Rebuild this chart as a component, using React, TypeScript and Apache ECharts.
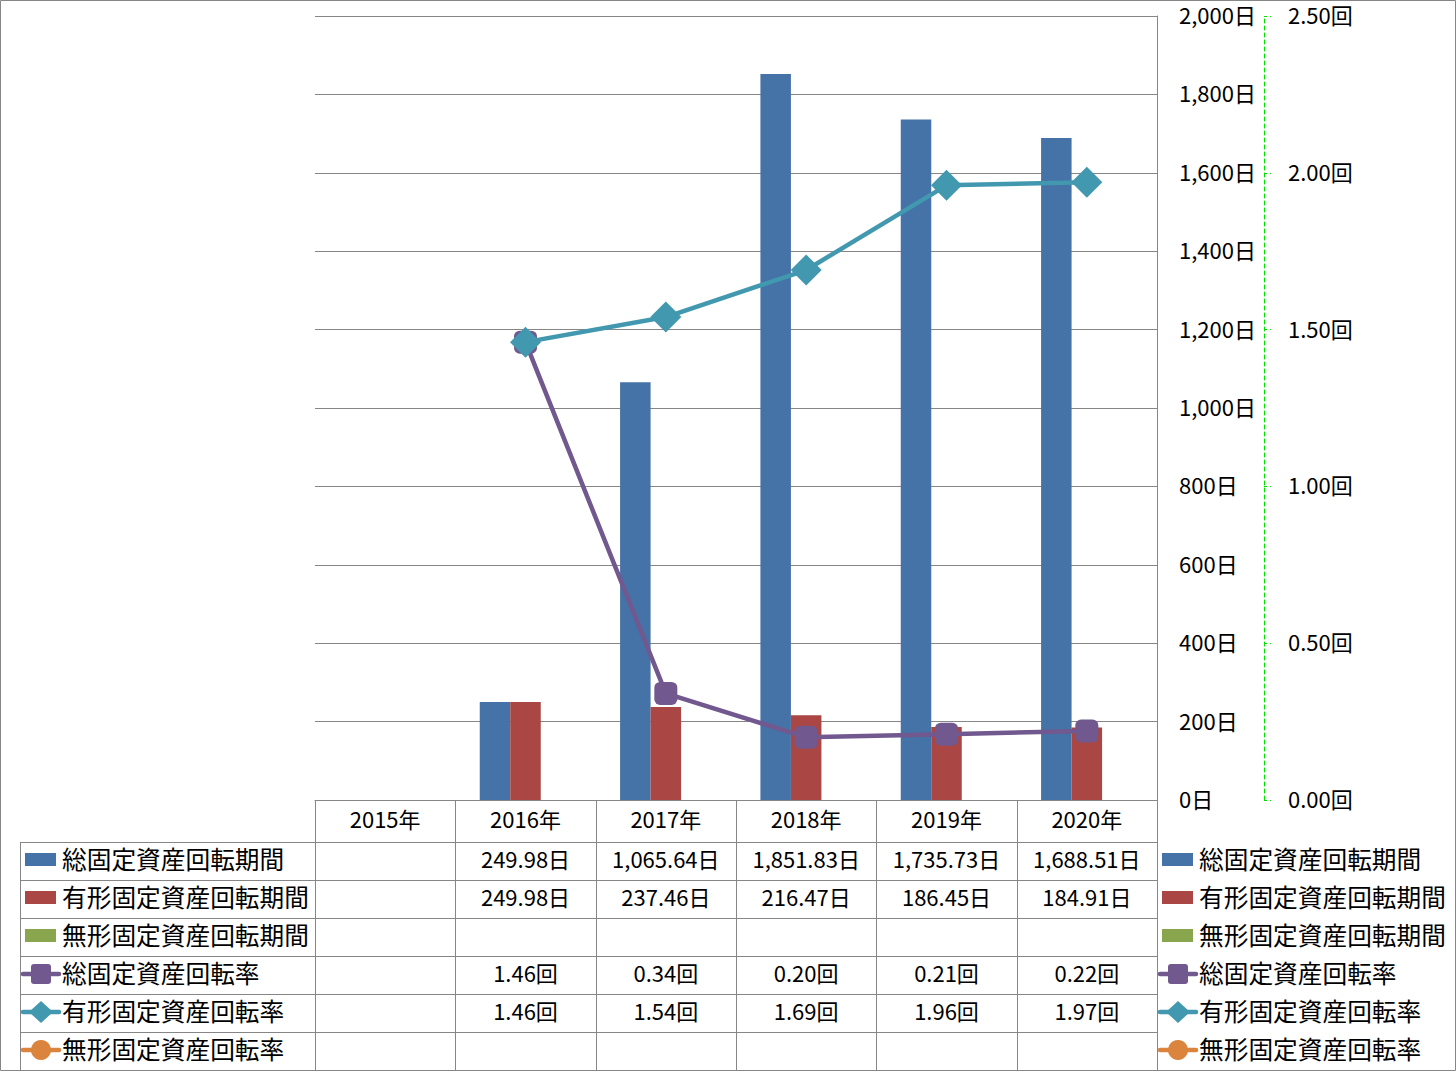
import React, { useEffect, useRef } from "react";
import * as echarts from "echarts";

const categories = ["2015年", "2016年", "2017年", "2018年", "2019年", "2020年"];
const seriesNames = [
  "総固定資産回転期間",
  "有形固定資産回転期間",
  "無形固定資産回転期間",
  "総固定資産回転率",
  "有形固定資産回転率",
  "無形固定資産回転率",
];
const totalPeriod: (number | null)[] = [null, 249.98, 1065.64, 1851.83, 1735.73, 1688.51];
const tangiblePeriod: (number | null)[] = [null, 249.98, 237.46, 216.47, 186.45, 184.91];
const intangiblePeriod: (number | null)[] = [null, null, null, null, null, null];
const totalRate: (number | null)[] = [null, 1.46, 0.34, 0.2, 0.21, 0.22];
const tangibleRate: (number | null)[] = [null, 1.46, 1.54, 1.69, 1.96, 1.97];
const intangibleRate: (number | null)[] = [null, null, null, null, null, null];

const colors = ["#4572A7", "#AA4643", "#89A54E", "#71588F", "#4198AF", "#DB843D"];
const FONT = "'Noto Sans CJK JP', 'Noto Sans', sans-serif";

const W = 1456;
const H = 1071;
const GRID_L = 315;
const GRID_R = 1157;
const GRID_T = 16;
const GRID_B = 800;
const HEADER_B = 842;
const ROW_H = 38;
const TABLE_L = 20;
const GRAY = "#868686";
const TEXT_DY = -3;

function fmtDays(v: number | null) {
  if (v == null) return "";
  return (
    v.toLocaleString("en-US", { minimumFractionDigits: 2, maximumFractionDigits: 2 }) + "日"
  );
}
function fmtRate(v: number | null) {
  if (v == null) return "";
  return v.toFixed(2) + "回";
}

export default function App() {
  const ref = useRef<HTMLDivElement>(null);
  useEffect(() => {
    if (!ref.current) return;
    const chart = echarts.init(ref.current, null, { renderer: "svg" });
    const colW = (GRID_R - GRID_L) / categories.length;
    const rows = [
      { name: seriesNames[0], data: totalPeriod, fmt: fmtDays, kind: "bar" },
      { name: seriesNames[1], data: tangiblePeriod, fmt: fmtDays, kind: "bar" },
      { name: seriesNames[2], data: intangiblePeriod, fmt: fmtDays, kind: "bar" },
      { name: seriesNames[3], data: totalRate, fmt: fmtRate, kind: "square" },
      { name: seriesNames[4], data: tangibleRate, fmt: fmtRate, kind: "diamond" },
      { name: seriesNames[5], data: intangibleRate, fmt: fmtRate, kind: "circle" },
    ];
    const g: any[] = [];
    g.push({
      type: "rect",
      shape: { x: 0.5, y: 0.5, width: W - 1, height: H - 1 },
      style: { fill: "none", stroke: GRAY, lineWidth: 1 },
      silent: true,
    });
    const tableBottom = HEADER_B + ROW_H * rows.length;
    for (let i = 0; i < rows.length; i++) {
      const y = HEADER_B + ROW_H * i + 0.5;
      g.push({
        type: "line",
        shape: { x1: TABLE_L, y1: y, x2: GRID_R, y2: y },
        style: { stroke: GRAY, lineWidth: 1 },
      });
    }
    for (let c = 0; c <= categories.length; c++) {
      const x = Math.round(GRID_L + colW * c) + 0.5;
      g.push({
        type: "line",
        shape: { x1: x, y1: GRID_B, x2: x, y2: tableBottom },
        style: { stroke: GRAY, lineWidth: 1 },
      });
    }
    g.push({
      type: "line",
      shape: { x1: TABLE_L + 0.5, y1: HEADER_B, x2: TABLE_L + 0.5, y2: tableBottom },
      style: { stroke: GRAY, lineWidth: 1 },
    });
    categories.forEach((c, i) => {
      g.push({
        type: "text",
        x: GRID_L + colW * (i + 0.5),
        y: (GRID_B + HEADER_B) / 2 + TEXT_DY,
        style: {
          text: c,
          fontSize: 22,
          fontFamily: FONT,
          fill: "#000",
          align: "center",
          verticalAlign: "middle",
        },
      });
    });
    const key = (x0: number, cy: number, kind: string, color: string) => {
      if (kind === "bar") {
        g.push({
          type: "rect",
          shape: { x: x0 + 2, y: cy - 7, width: 31, height: 13 },
          style: { fill: color },
        });
      } else {
        g.push({
          type: "line",
          shape: { x1: x0, y1: cy, x2: x0 + 36, y2: cy },
          style: { stroke: color, lineWidth: 4.5, lineCap: "round" },
        });
        const cx = x0 + 18;
        if (kind === "square") {
          g.push({
            type: "rect",
            shape: { x: cx - 10, y: cy - 10, width: 20, height: 20, r: 3 },
            style: { fill: color },
          });
        } else if (kind === "diamond") {
          g.push({
            type: "polygon",
            shape: {
              points: [
                [cx, cy - 11],
                [cx + 12, cy],
                [cx, cy + 11],
                [cx - 12, cy],
              ],
            },
            style: { fill: color },
          });
        } else {
          g.push({
            type: "circle",
            shape: { cx, cy, r: 10 },
            style: { fill: color },
          });
        }
      }
    };
    rows.forEach((r, i) => {
      const cy = HEADER_B + ROW_H * i + ROW_H / 2 - 1;
      const color = colors[i];
      key(23, cy, r.kind, color);
      g.push({
        type: "text",
        x: 62,
        y: cy + TEXT_DY + 1,
        style: {
          text: r.name,
          fontSize: 24.7,
          fontFamily: FONT,
          fill: "#000",
          align: "left",
          verticalAlign: "middle",
        },
      });
      key(1160, cy, r.kind, color);
      g.push({
        type: "text",
        x: 1199,
        y: cy + TEXT_DY + 1,
        style: {
          text: r.name,
          fontSize: 24.7,
          fontFamily: FONT,
          fill: "#000",
          align: "left",
          verticalAlign: "middle",
        },
      });
      r.data.forEach((v, c) => {
        const t = r.fmt(v);
        if (!t) return;
        g.push({
          type: "text",
          x: GRID_L + colW * (c + 0.5),
          y: cy + TEXT_DY + 1,
          style: {
            text: t,
            fontSize: 22,
            fontFamily: FONT,
            fill: "#000",
            align: "center",
            verticalAlign: "middle",
          },
        });
      });
    });

    const option: any = {
      animation: false,
      backgroundColor: "#fff",
      textStyle: { fontFamily: FONT },
      grid: {
        left: GRID_L,
        right: W - GRID_R,
        top: GRID_T,
        bottom: H - GRID_B,
        containLabel: false,
      },
      xAxis: {
        type: "category",
        data: categories,
        axisLine: { show: true, lineStyle: { color: GRAY, width: 1 } },
        axisTick: { show: false },
        axisLabel: { show: false },
        splitLine: { show: false },
      },
      yAxis: [
        {
          type: "value",
          position: "right",
          min: 0,
          max: 2000,
          interval: 200,
          axisLine: { show: true, lineStyle: { color: GRAY, width: 1 } },
          axisTick: { show: false },
          axisLabel: {
            margin: 22,
            fontSize: 22,
            color: "#000",
            fontFamily: FONT,
            verticalAlign: "bottom",
            lineHeight: 4,
            formatter: (v: number) => v.toLocaleString("en-US") + "日",
          },
          splitLine: { show: true, lineStyle: { color: GRAY, width: 1 } },
        },
        {
          type: "value",
          position: "right",
          offset: 107,
          min: 0,
          max: 2.5,
          interval: 0.5,
          axisLine: {
            show: true,
            lineStyle: { color: "#00E000", width: 1, type: [4, 3] },
          },
          axisTick: {
            show: true,
            length: 7,
            lineStyle: { color: "#00E000", width: 1, type: [3, 3] },
          },
          axisLabel: {
            margin: 24,
            fontSize: 22,
            color: "#000",
            fontFamily: FONT,
            verticalAlign: "bottom",
            lineHeight: 4,
            formatter: (v: number) => v.toFixed(2) + "回",
          },
          splitLine: { show: false },
        },
      ],
      series: [
        {
          name: seriesNames[0],
          type: "bar",
          data: totalPeriod,
          yAxisIndex: 0,
          barWidth: 30.5,
          barGap: "0%",
          itemStyle: { color: colors[0] },
        },
        {
          name: seriesNames[1],
          type: "bar",
          data: tangiblePeriod,
          yAxisIndex: 0,
          barWidth: 30.5,
          barGap: "0%",
          itemStyle: { color: colors[1] },
        },
        {
          name: seriesNames[2],
          type: "bar",
          data: intangiblePeriod,
          yAxisIndex: 0,
          barWidth: 30.5,
          barGap: "0%",
          itemStyle: { color: colors[2] },
        },
        {
          name: seriesNames[3],
          type: "line",
          data: totalRate,
          yAxisIndex: 1,
          symbol: "roundRect",
          symbolSize: 23,
          lineStyle: { color: colors[3], width: 4.5 },
          itemStyle: { color: colors[3] },
          z: 3,
        },
        {
          name: seriesNames[4],
          type: "line",
          data: tangibleRate,
          yAxisIndex: 1,
          symbol: "diamond",
          symbolSize: [31, 31],
          lineStyle: { color: colors[4], width: 4.5 },
          itemStyle: { color: colors[4] },
          z: 4,
        },
        {
          name: seriesNames[5],
          type: "line",
          data: intangibleRate,
          yAxisIndex: 1,
          symbol: "circle",
          symbolSize: 20,
          lineStyle: { color: colors[5], width: 4.5 },
          itemStyle: { color: colors[5] },
          z: 5,
        },
      ],
      graphic: g,
    };
    chart.setOption(option);
    return () => chart.dispose();
  }, []);
  return (
    <div
      ref={ref}
      style={{ position: "fixed", left: 0, top: 0, width: W, height: H, background: "#fff" }}
    />
  );
}
